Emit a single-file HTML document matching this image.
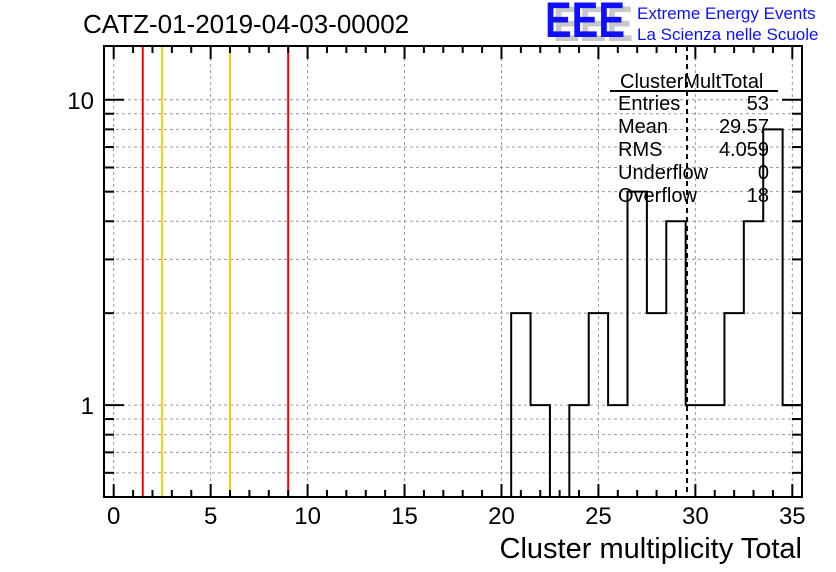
<!DOCTYPE html>
<html><head><meta charset="utf-8"><style>
body{margin:0;background:#fff;}
svg{display:block;font-family:"Liberation Sans",sans-serif;}
</style></head><body>
<svg id="c" width="836" height="572" viewBox="0 0 836 572">
<text x="83" y="33" font-size="26">CATZ-01-2019-04-03-00002</text>
<g>
<text x="553" y="41" font-size="50" font-weight="bold" fill="#c8c8c8" textLength="80" lengthAdjust="spacingAndGlyphs">EEE</text>
<text x="545" y="37" font-size="50" font-weight="bold" fill="#1010ff" textLength="80" lengthAdjust="spacingAndGlyphs">EEE</text>
<text x="637" y="19" font-size="17" fill="#1010ff">Extreme Energy Events</text>
<text x="637" y="40" font-size="17" fill="#1010ff">La Scienza nelle Scuole</text>
</g>
<g id="grid"></g>
<g id="marks"></g>
<g id="axes"></g>
<g font-size="20">
<text x="620" y="88">ClusterMultTotal</text>
<line x1="610" y1="91" x2="778" y2="91" stroke="#000" stroke-width="2"/>
<text x="618" y="110">Entries</text><text x="769" y="110" text-anchor="end">53</text>
<text x="618" y="133">Mean</text><text x="769" y="133" text-anchor="end">29.57</text>
<text x="618" y="156">RMS</text><text x="769" y="156" text-anchor="end">4.059</text>
<text x="618" y="179">Underflow</text><text x="769" y="179" text-anchor="end">0</text>
<text x="618" y="202">Overflow</text><text x="769" y="202" text-anchor="end">18</text>
</g>
<text x="802" y="558" font-size="29" text-anchor="end">Cluster multiplicity Total</text>
</svg>
<script>
const bins=[21,22,23,24,25,26,27,28,29,30,31,32,33,34,35];
const counts=[2,1,0,1,2,1,5,2,4,1,1,2,4,8,1];
const xTicks=[0,5,10,15,20,25,30,35];
const yTicks=[1,10];
const redLines=[1.5,9];
const orangeLines=[2.5,6];
const meanValue=29.57;
const NS="http://www.w3.org/2000/svg";
const L=104,R=802,T=46,B=497,X0=-0.5,X1=35.5,Y0=0.5,Y1=15;
const sx=v=>L+(v-X0)/(X1-X0)*(R-L);
const sy=v=>B-(Math.log10(v)-Math.log10(Y0))/(Math.log10(Y1)-Math.log10(Y0))*(B-T);
function mk(p,tag,a){const e=document.createElementNS(NS,tag);for(const k in a)e.setAttribute(k,a[k]);p.appendChild(e);return e;}
const grid=document.getElementById('grid'),marks=document.getElementById('marks'),axes=document.getElementById('axes');
const g="#999";
xTicks.forEach(v=>{const l=mk(grid,'line',{x1:sx(v),x2:sx(v),y1:T,y2:B,stroke:g,'stroke-dasharray':'3,3'});
});
const yAll=[];for(let d=0.1;d<=10;d*=10)for(let k=1;k<10;k++){const v=+(k*d).toFixed(3);if(v>=Y0&&v<=Y1)yAll.push(v);}
yAll.forEach(v=>{const l=mk(grid,'line',{x1:L,x2:R,y1:sy(v),y2:sy(v),stroke:g,'stroke-dasharray':'3,3'});
});
let d="";bins.forEach((b,i)=>{const x0=sx(b-0.5),x1=sx(b+0.5);const y=counts[i]>0?sy(counts[i]):B;
d+=(i===0?`M${x0},${B}`:"")+`L${x0},${y}L${x1},${y}`;});
d+=`L${sx(bins[bins.length-1]+0.5)},${B}`;
const h=mk(marks,'path',{d:d,fill:'none',stroke:'#000','stroke-width':2});

redLines.forEach(v=>{const l=mk(marks,'line',{x1:sx(v),x2:sx(v),y1:T,y2:B,stroke:'#f00','stroke-width':2});
});
orangeLines.forEach(v=>{const l=mk(marks,'line',{x1:sx(v),x2:sx(v),y1:T,y2:B,stroke:'#fc0','stroke-width':2});
});
const m=mk(marks,'line',{x1:sx(meanValue),x2:sx(meanValue),y1:T,y2:B,stroke:'#000','stroke-width':2,'stroke-dasharray':'5,4'});

const f=mk(axes,'rect',{x:L,y:T,width:R-L,height:B-T,fill:'none',stroke:'#000','stroke-width':2});

for(let v=0;v<=35;v++){const maj=v%5===0,len=maj?13:7;
mk(axes,'line',{x1:sx(v),x2:sx(v),y1:B,y2:B-len,stroke:'#000','stroke-width':2});
mk(axes,'line',{x1:sx(v),x2:sx(v),y1:T,y2:T+len,stroke:'#000','stroke-width':2});}
xTicks.forEach(v=>{const t=mk(axes,'text',{x:sx(v),y:524,'font-size':24,'text-anchor':'middle'});t.textContent=v;
});
yAll.forEach(v=>{const maj=yTicks.includes(v),len=maj?20:10;
mk(axes,'line',{x1:L,x2:L+len,y1:sy(v),y2:sy(v),stroke:'#000','stroke-width':2});
mk(axes,'line',{x1:R,x2:R-len,y1:sy(v),y2:sy(v),stroke:'#000','stroke-width':2});});
yTicks.forEach(v=>{const t=mk(axes,'text',{x:94,y:sy(v)+9,'font-size':24,'text-anchor':'end'});t.textContent=v;
});
</script>
</body></html>
